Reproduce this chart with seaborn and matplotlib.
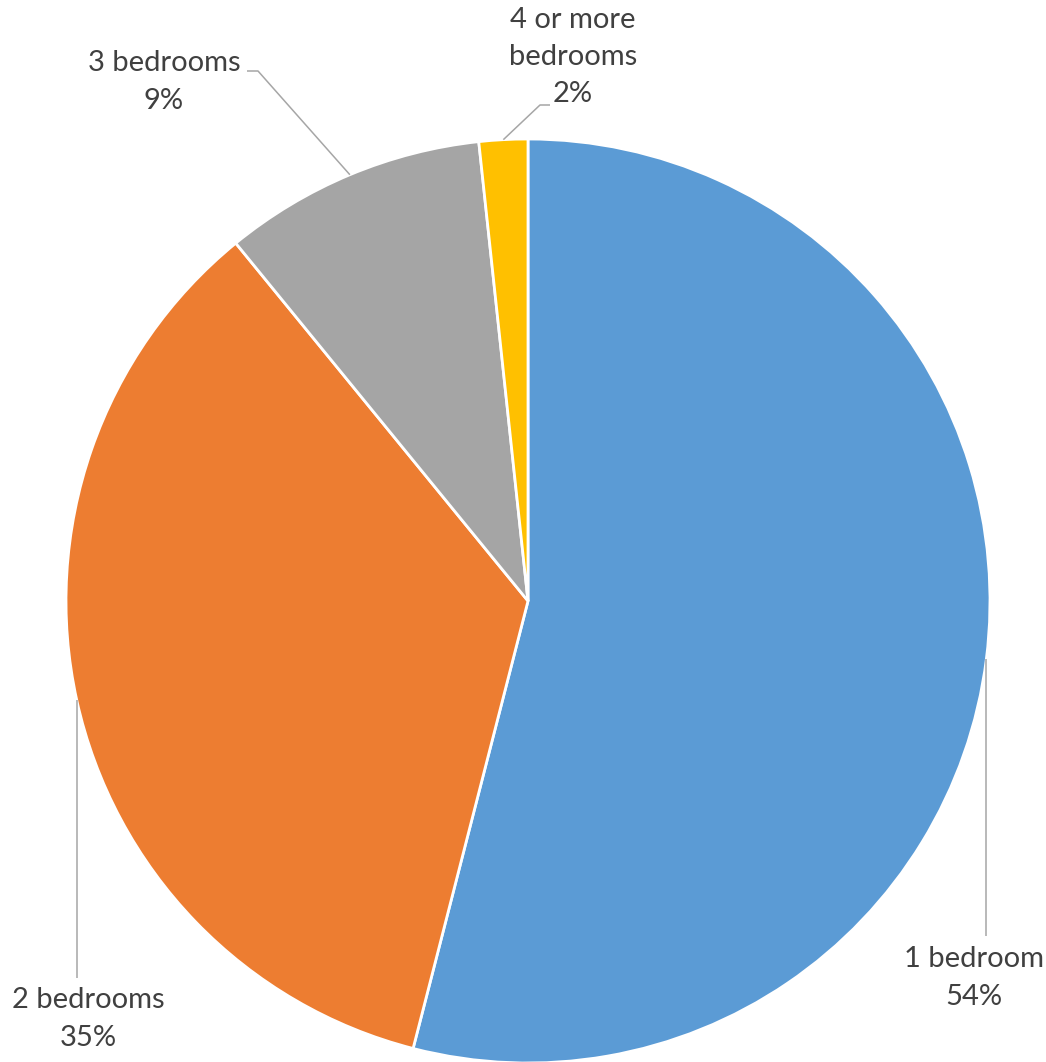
import numpy as np
import matplotlib
matplotlib.use("Agg")
import matplotlib.pyplot as plt
import seaborn as sns

# Share of dwellings by number of bedrooms
categories = ["1 bedroom", "2 bedrooms", "3 bedrooms", "4 or more\nbedrooms"]
shares = [54.0, 35.1, 9.2, 1.7]
colors = ["#5B9BD5", "#ED7D31", "#A5A5A5", "#FFC000"]

sns.set_theme(style="white")
plt.rcParams["font.family"] = ["Lato", "DejaVu Sans"]

W, H = 1046, 1062
fig = plt.figure(figsize=(W / 100, H / 100), dpi=100)
ax = fig.add_axes([0, 0, 1, 1])


def py(y):
    """Convert a top-down pixel row to the upward data axis."""
    return H - y


center = (528, py(601))
radius = 462

wedges, _ = ax.pie(
    shares,
    colors=colors,
    startangle=90,
    counterclock=False,
    center=center,
    radius=radius,
    wedgeprops=dict(edgecolor="white", linewidth=2.0),
)
ax.set_xlim(0, W)
ax.set_ylim(0, H)
ax.set_aspect("equal")
ax.axis("off")

# Label layout: block centre, leader elbow, leader tail (pixel rows from the top)
label_pos = [(974, 978), (88, 1019), (164, 82), (573, 57)]
elbows = [None, None, (258, 71), (540, 105)]
tails = [(None, 936), (None, 978), (247, 71), (550, 105)]

line_color = "#A6A6A6"
text_color = "#404040"

for w, cat, val, (lx, ly), elbow, tail in zip(wedges, categories, shares,
                                              label_pos, elbows, tails):
    mid = np.deg2rad((w.theta1 + w.theta2) / 2)
    sx = center[0] + radius * np.cos(mid)
    sy = center[1] + radius * np.sin(mid)
    if elbow is None:
        xs = [sx, sx]
        ys = [sy, py(tail[1])]
    else:
        xs = [sx, elbow[0], tail[0]]
        ys = [sy, py(elbow[1]), py(tail[1])]
    ax.plot(xs, ys, color=line_color, lw=1.1, solid_capstyle="butt")
    ax.text(lx, py(ly), f"{cat}\n{val:.0f}%", ha="center", va="center",
            fontsize=21, color=text_color, linespacing=1.54)

fig.savefig("out.png", dpi=100, facecolor="white")
